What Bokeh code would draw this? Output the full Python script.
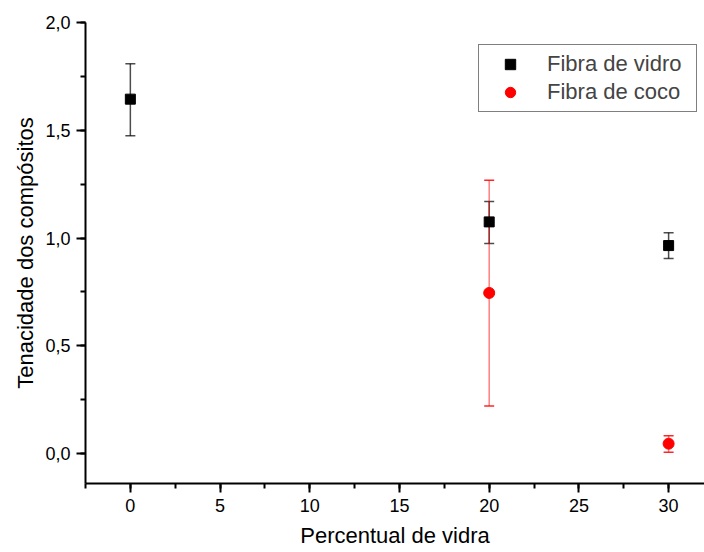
from bokeh.plotting import figure
from bokeh.models import (ColumnDataSource, Whisker, TeeHead, Range1d, SingleIntervalTicker,
                          CustomJSTickFormatter, Legend, LegendItem)
from bokeh.embed import file_html
from bokeh.resources import INLINE

# data
x_vidro = [0, 20, 30]
y_vidro = [1.645, 1.075, 0.965]
vidro_lower = [1.475, 0.975, 0.905]
vidro_upper = [1.81, 1.17, 1.025]

x_coco = [20, 30]
y_coco = [0.745, 0.045]
coco_lower = [0.22, 0.005]
coco_upper = [1.268, 0.082]

x_label = "Percentual de vidra"
y_label = "Tenacidade dos compósitos"
names = ["Fibra de vidro", "Fibra de coco"]

FONT = "Liberation Sans"

p = figure(width=704, height=552, output_backend="svg", toolbar_location=None,
           x_range=Range1d(-2.5, 32.0), y_range=Range1d(-0.14, 2.001),
           min_border_left=85, min_border_right=0, min_border_top=22, min_border_bottom=69)
p.outline_line_color = None
p.xgrid.visible = False
p.ygrid.visible = False

src_v = ColumnDataSource(dict(x=x_vidro, y=y_vidro, lo=vidro_lower, hi=vidro_upper))
src_c = ColumnDataSource(dict(x=x_coco, y=y_coco, lo=coco_lower, hi=coco_upper))

wv = Whisker(source=src_v, base="x", lower="lo", upper="hi", dimension="height",
             line_color="black", line_alpha=0.7, line_width=1.5,
             upper_head=TeeHead(size=10, line_color="black", line_alpha=0.7, line_width=1.5),
             lower_head=TeeHead(size=10, line_color="black", line_alpha=0.7, line_width=1.5))
wc = Whisker(source=src_c, base="x", lower="lo", upper="hi", dimension="height",
             line_color="red", line_alpha=0.5, line_width=1.5,
             upper_head=TeeHead(size=10, line_color="red", line_alpha=0.85, line_width=1.5),
             lower_head=TeeHead(size=10, line_color="red", line_alpha=0.85, line_width=1.5))
p.add_layout(wv)
p.add_layout(wc)

rv = p.scatter("x", "y", source=src_v, marker="square", size=10, color="black")
rc = p.scatter("x", "y", source=src_c, marker="circle", size=11, color="red")

fmt = CustomJSTickFormatter(code="return tick.toFixed(1).replace('.', ',');")
fmt_x = CustomJSTickFormatter(code="return Math.round(tick).toString();")

p.xaxis.ticker = SingleIntervalTicker(interval=5, num_minor_ticks=2)
p.yaxis.ticker = SingleIntervalTicker(interval=0.5, num_minor_ticks=2)
p.yaxis.formatter = fmt
p.xaxis.formatter = fmt_x

for ax in (p.xaxis, p.yaxis):
    ax.axis_line_width = 2
    ax.major_tick_line_width = 2
    ax.minor_tick_line_width = 2
    ax.major_tick_out = 9
    ax.major_tick_in = 0
    ax.minor_tick_out = 5
    ax.minor_tick_in = 0
    ax.major_label_text_font = FONT
    ax.major_label_text_font_size = "18px"
    ax.major_label_text_color = "black"
    ax.axis_label_text_font = FONT
    ax.axis_label_text_font_size = "22px"
    ax.axis_label_text_font_style = "normal"
    ax.axis_label_text_color = "black"

p.xaxis.axis_label = x_label
p.yaxis.axis_label = y_label
p.xaxis.major_label_standoff = 6
p.yaxis.major_label_standoff = 6
p.xaxis.axis_label_standoff = 8
p.yaxis.axis_label_standoff = 4

legend = Legend(items=[LegendItem(label=names[0], renderers=[rv]),
                       LegendItem(label=names[1], renderers=[rc])],
                location=(393, 371), padding=6, spacing=2, margin=0,
                glyph_width=50, glyph_height=26, label_height=26, label_width=143,
                label_standoff=12, label_text_font=FONT, label_text_font_size="22px",
                border_line_color="black", border_line_width=1, background_fill_alpha=1)
p.add_layout(legend)

open("out.html", "w").write(file_html(p, INLINE))
